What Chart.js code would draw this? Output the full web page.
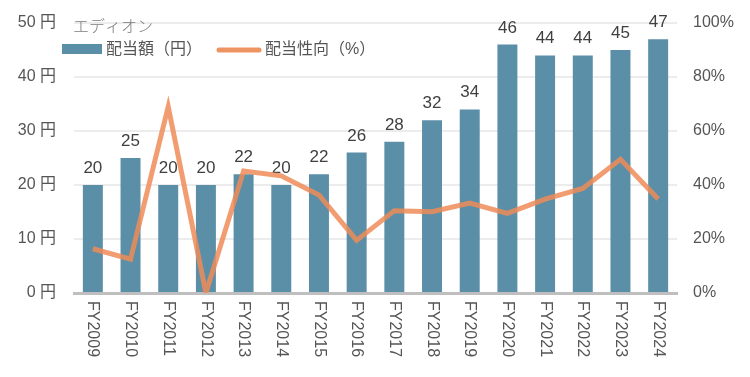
<!DOCTYPE html>
<html>
<head>
<meta charset="utf-8">
<script src="https://cdn.jsdelivr.net/npm/chart.js@4"></script>
<style>
  html, body { margin: 0; padding: 0; background: #fff; }
  #wrap { width: 750px; height: 377px; }
</style>
</head>
<body>
<div id="wrap"><canvas id="chart" width="750" height="377"></canvas></div>
<script>
var years = ["FY2009", "FY2010", "FY2011", "FY2012", "FY2013", "FY2014", "FY2015", "FY2016",
  "FY2017", "FY2018", "FY2019", "FY2020", "FY2021", "FY2022", "FY2023", "FY2024"];
var dividend = [20, 25, 20, 20, 22, 20, 22, 26, 28, 32, 34, 46, 44, 44, 45, 47];
var payoutRatio = [16.4, 12.5, 69, 0, 45.2, 43.4, 36.3, 19.5, 30.5, 30.1, 33.3, 29.5, 34.8, 38.7, 49.5, 34.8];
var yenTicks = [0, 10, 20, 30, 40, 50];
var pctTicks = [0, 20, 40, 60, 80, 100];

var FONT = '"Liberation Sans", "Noto Sans CJK JP", sans-serif';
var BAR_COLOR = "#5b8ea7";
var LINE_COLOR = "rgba(238, 140, 88, 0.85)";

// バーの上に値ラベル、下に縦書きの年度ラベル、左上にタイトルと凡例
var extras = {
  id: "extras",
  afterDatasetDraw: function (chart, args) {
    if (args.index !== 0) return;
    var ctx = chart.ctx;
    ctx.save();
    ctx.font = "17px " + FONT;
    ctx.fillStyle = "#404040";
    ctx.textAlign = "center";
    ctx.textBaseline = "alphabetic";
    args.meta.data.forEach(function (bar, i) {
      ctx.fillText(dividend[i], bar.x, bar.y - 12);
    });
    ctx.restore();
  },
  afterDraw: function (chart) {
    var ctx = chart.ctx;
    var x = chart.scales.x;
    ctx.save();
    ctx.font = "16px " + FONT;
    ctx.fillStyle = "#555";
    ctx.textAlign = "left";
    ctx.textBaseline = "middle";
    years.forEach(function (lab, i) {
      ctx.save();
      ctx.translate(x.getPixelForTick(i), chart.chartArea.bottom + 8);
      ctx.rotate(Math.PI / 2);
      ctx.fillText(lab, 0, 0);
      ctx.restore();
    });

    // タイトル
    ctx.font = "300 16px " + FONT;
    ctx.fillStyle = "#7a7a7a";
    ctx.fillText("エディオン", 73, 28);

    // 凡例
    ctx.fillStyle = BAR_COLOR;
    ctx.fillRect(62, 44, 40, 10);
    ctx.font = "16px " + FONT;
    ctx.fillStyle = "#555";
    ctx.fillText("配当額（円）", 106, 50);
    ctx.strokeStyle = "#ee9462";
    ctx.lineWidth = 5;
    ctx.lineCap = "round";
    ctx.beginPath();
    ctx.moveTo(219, 50);
    ctx.lineTo(259, 50);
    ctx.stroke();
    ctx.fillText("配当性向（%）", 265, 50);
    ctx.restore();
  }
};

function fixWidth(w) {
  return function (s) {
    s.width = w;
    s.paddingTop = 0;
    s.paddingBottom = 0;
  };
}

new Chart(document.getElementById("chart"), {
  data: {
    labels: years,
    datasets: [
      {
        type: "bar",
        label: "配当額（円）",
        data: dividend,
        backgroundColor: BAR_COLOR,
        yAxisID: "y",
        order: 1,
        barPercentage: 0.53,
        categoryPercentage: 1
      },
      {
        type: "line",
        label: "配当性向（%）",
        data: payoutRatio,
        borderColor: LINE_COLOR,
        borderWidth: 5,
        pointRadius: 0,
        tension: 0,
        yAxisID: "y2",
        order: 0
      }
    ]
  },
  options: {
    responsive: false,
    animation: false,
    layout: { padding: { top: 23, left: 0, right: 0, bottom: 0 } },
    plugins: {
      legend: { display: false },
      tooltip: { enabled: false }
    },
    scales: {
      x: {
        grid: { display: false, drawTicks: false },
        border: { color: "#bfbfbf", width: 3 },
        ticks: { display: false },
        afterFit: function (s) { s.height = 84; s.paddingLeft = 0; s.paddingRight = 0; }
      },
      y: {
        position: "left",
        min: 0,
        max: 50,
        afterBuildTicks: function (s) { s.ticks = yenTicks.map(function (v) { return { value: v }; }); },
        grid: { color: "#ececec", lineWidth: 2, drawTicks: false },
        border: { display: false },
        ticks: {
          padding: 18,
          color: "#555",
          font: { family: FONT, size: 16 },
          callback: function (v) { return v + " 円"; }
        },
        afterFit: fixWidth(74)
      },
      y2: {
        position: "right",
        min: 0,
        max: 100,
        afterBuildTicks: function (s) { s.ticks = pctTicks.map(function (v) { return { value: v }; }); },
        grid: { display: false, drawTicks: false },
        border: { display: false },
        ticks: {
          padding: 16,
          color: "#555",
          font: { family: FONT, size: 16 },
          callback: function (v) { return v + "%"; }
        },
        afterFit: fixWidth(73)
      }
    }
  },
  plugins: [extras]
});
</script>
</body>
</html>
